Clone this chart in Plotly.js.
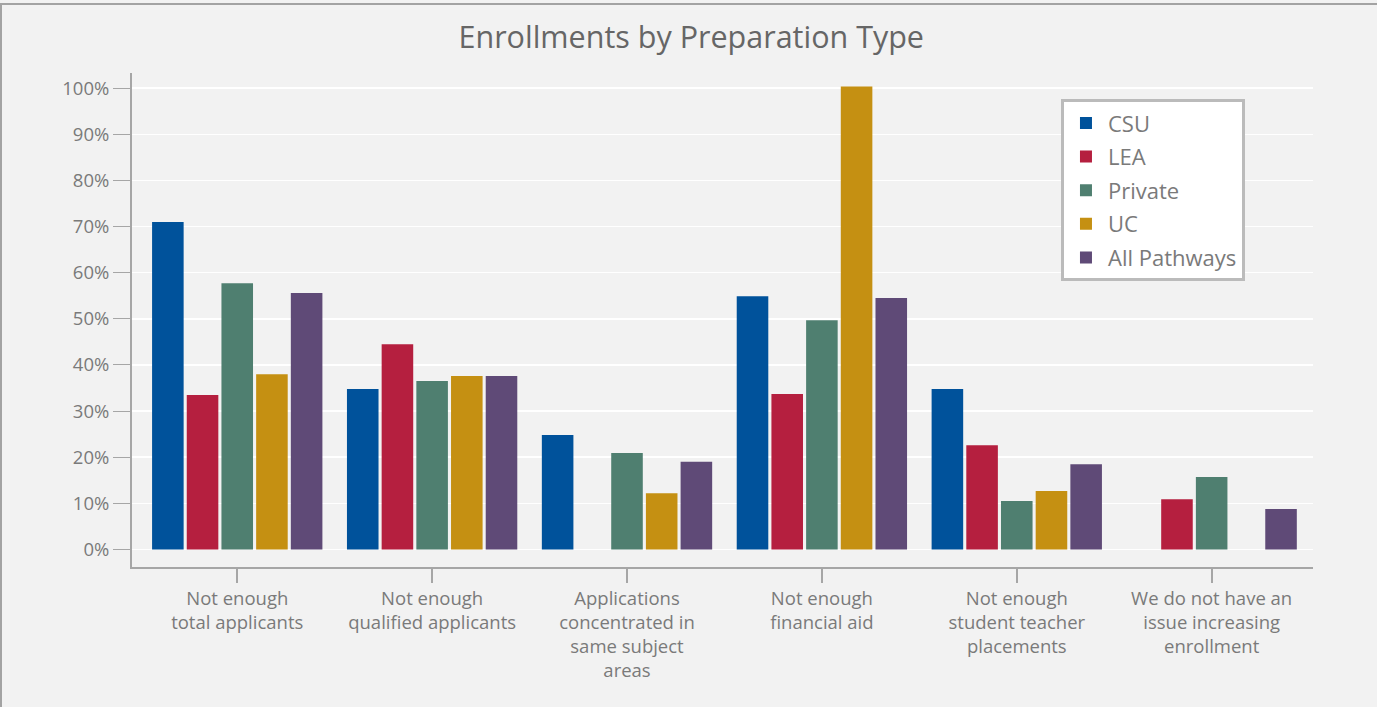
<!DOCTYPE html>
<html>
<head>
<meta charset="utf-8">
<script src="https://cdn.plot.ly/plotly-3.0.1.min.js"></script>
<style>
html,body{margin:0;padding:0;background:#f2f2f2;}
#wrap{position:relative;width:1377px;height:707px;}
#chart{width:1377px;height:707px;}
#frame{position:absolute;left:0;top:3px;width:1377px;height:704px;border-left:2px solid #a3a3a3;border-top:2px solid #a3a3a3;box-sizing:border-box;pointer-events:none;}
</style>
</head>
<body>
<div id="wrap"><div id="chart"></div><div id="frame"></div></div>
<script>
const categories = [
  "Not enough<br>total applicants",
  "Not enough<br>qualified applicants",
  "Applications<br>concentrated in<br>same subject<br>areas",
  "Not enough<br>financial aid",
  "Not enough<br>student teacher<br>placements",
  "We do not have an<br>issue increasing<br>enrollment"
];
const seriesNames = ["CSU", "LEA", "Private", "UC", "All Pathways"];
const csu     = [71.0, 34.8, 24.8, 54.9, 34.8, null];
const lea     = [33.5, 44.5, null, 33.7, 22.6, 10.9];
const priv    = [57.7, 36.5, 20.9, 49.7, 10.5, 15.7];
const uc      = [38.0, 37.6, 12.2, 100.4, 12.7, null];
const allPath = [55.6, 37.6, 19.0, 54.5, 18.5, 8.8];
const colors = ["#00529b", "#b51f3f", "#4f7f70", "#c59012", "#5f4a77"];
const values = [csu, lea, priv, uc, allPath];

const traces = values.map((v, i) => ({
  type: "bar",
  name: seriesNames[i],
  legendgroup: "g" + i,
  x: categories,
  y: v,
  marker: {color: colors[i]},
  hoverinfo: "x+y+name"
}));

const fontFam = "'Open Sans', sans-serif";
const layout = {
  width: 1377, height: 707,
  paper_bgcolor: "#f2f2f2",
  plot_bgcolor: "#f2f2f2",
  margin: {l: 132, r: 64, t: 73, b: 140},
  barmode: "group",
  bargap: 0.11,
  bargroupgap: 0.09,
  font: {family: fontFam, color: "#7a7a7a", size: 18.5},
  title: {
    text: "Enrollments by Preparation Type",
    font: {family: fontFam, size: 30.5, color: "#666666"},
    xref: "container", x: 0.502, xanchor: "center",
    yref: "container", y: 0.947, yanchor: "middle"
  },
  xaxis: {
    type: "category",
    range: [-0.54, 5.52],
    showline: true, linecolor: "#a6a6a6", linewidth: 2,
    ticks: "outside", ticklen: 14, tickcolor: "#a6a6a6", tickwidth: 2,
    showgrid: false, zeroline: false,
    tickfont: {family: fontFam, size: 18.5, color: "#7a7a7a"}
  },
  yaxis: {
    range: [-3.8, 103.3],
    tick0: 0, dtick: 10,
    ticksuffix: "%",
    showline: true, linecolor: "#a6a6a6", linewidth: 2,
    ticks: "outside", ticklen: 17, tickcolor: "#a6a6a6", tickwidth: 1,
    showgrid: true, gridcolor: "#ffffff", gridwidth: 1.5,
    zeroline: true, zerolinecolor: "#ffffff", zerolinewidth: 1.5,
    tickfont: {family: fontFam, size: 18.5, color: "#7a7a7a"}
  },
  legend: {
    x: 0.7866, y: 0.947, xanchor: "left", yanchor: "top",
    bgcolor: "#ffffff", bordercolor: "#bbbbbb", borderwidth: 3,
    font: {family: fontFam, size: 22, color: "#7a7a7a"},
    itemwidth: 34,
    traceorder: "grouped", tracegroupgap: 2
  },
  showlegend: true
};

Plotly.newPlot("chart", traces, layout, {displayModeBar: false, staticPlot: true});
</script>
</body>
</html>
